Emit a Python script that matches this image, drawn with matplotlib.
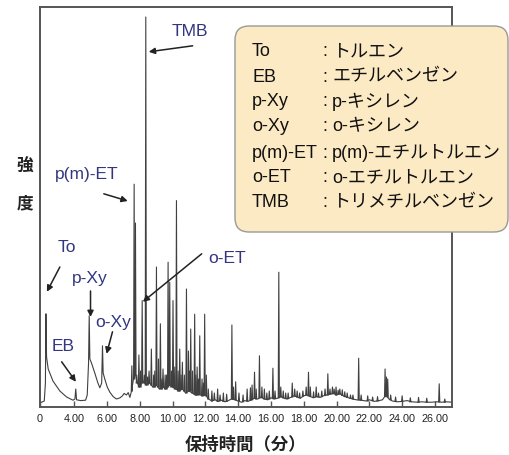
import matplotlib
matplotlib.use("Agg")
import matplotlib.pyplot as plt
from matplotlib.patches import FancyBboxPatch
from matplotlib.transforms import IdentityTransform

# ---------------- data (retention time in min, relative intensity) ----------------
# continuous trace: baseline with the broad early peaks (To, EB, p-Xy, o-Xy)
trace_t = [1.92, 2.18, 2.25, 2.28, 2.32, 2.42, 2.71, 3.13, 3.54, 3.93, 4.05, 4.10, 4.15,
           4.40, 4.70, 4.80, 4.88, 4.92, 4.96, 5.06, 5.26, 5.45, 5.57, 5.68, 5.73, 5.77,
           5.87, 6.02, 6.18, 6.38, 6.58, 6.80, 6.95, 7.05, 7.19, 7.30, 7.40, 7.50, 7.62,
           7.72, 7.85, 8.00, 8.20, 8.40, 8.60, 8.80, 9.00, 9.20, 9.40, 9.60, 9.80, 10.00,
           10.20, 10.40, 10.60, 10.80, 11.00, 11.20, 11.40, 11.60, 11.80, 12.00, 12.20,
           12.40, 12.60, 12.80, 13.00, 13.20, 13.40, 13.60, 13.80, 14.00, 14.20, 14.40,
           14.60, 14.80, 15.00, 15.20, 15.40, 15.60, 15.80, 16.00, 16.20, 16.40, 16.60,
           16.80, 17.00, 17.20, 17.40, 17.60, 17.80, 18.00, 18.20, 18.40, 18.60, 18.80,
           19.00, 19.20, 19.40, 19.60, 19.80, 20.00, 20.20, 20.40, 20.60, 20.80, 21.00,
           21.20, 21.50, 21.80, 22.00, 22.30, 22.60, 22.80, 23.00, 23.20, 23.40, 23.70,
           24.00, 24.30, 24.60, 24.90, 25.20, 25.50, 25.80, 26.10, 26.40, 26.70, 27.04]
trace_i = [1.0, 1.5, 6.0, 23.3, 12.5, 9.5, 6.5, 4.0, 2.5, 1.7, 2.0, 4.5, 1.8,
           1.6, 1.7, 3.0, 11.0, 22.8, 12.0, 11.0, 8.5, 6.0, 4.8, 6.0, 15.3, 8.5,
           7.0, 5.0, 3.7, 2.6, 2.0, 2.3, 2.8, 3.4, 3.0, 3.6, 2.4, 4.0, 7.0,
           8.5, 6.0, 5.0, 6.5, 5.5, 6.0, 5.0, 5.5, 4.5, 5.0, 4.5, 5.5, 5.0,
           4.5, 4.0, 4.5, 3.5, 4.0, 3.5, 3.0, 3.2, 2.8, 3.0, 2.0,
           1.5, 1.8, 1.4, 1.7, 1.3, 1.6, 2.0, 1.8, 1.5, 1.2, 1.6,
           1.4, 1.8, 2.2, 2.0, 2.5, 2.0, 1.8, 2.3, 2.0, 2.2, 2.6,
           2.2, 2.0, 2.4, 2.8, 2.5, 2.2, 2.8, 3.0, 2.6, 2.3, 2.6,
           2.4, 2.8, 3.0, 3.2, 3.4, 3.0, 3.3, 2.8, 2.5, 2.2, 2.0,
           1.8, 1.7, 1.5, 1.8, 1.4, 1.6, 1.8, 3.0, 2.0, 1.5, 1.3,
           1.4, 1.6, 1.3, 1.2, 1.3, 1.2, 1.2, 1.3, 1.2, 1.3, 1.2]

# narrow peaks: apex time, apex intensity, foot level
peak_t = [7.52, 7.66, 7.74, 7.82, 7.95, 8.05, 8.15, 8.28, 8.37, 8.48, 8.57, 8.71, 8.85,
          8.92, 9.02, 9.14, 9.26, 9.35, 9.42, 9.55, 9.64, 9.73, 9.83, 9.93, 10.03, 10.14,
          10.24, 10.34, 10.44, 10.52, 10.60, 10.72, 10.85, 10.97, 11.04, 11.11, 11.22,
          11.35, 11.42, 11.50, 11.58, 11.66, 11.80, 11.88, 11.96, 12.06, 12.18,
          12.40, 12.55, 12.75, 12.90, 13.10, 13.30, 13.62, 13.72, 13.85, 14.05, 14.30,
          14.55, 14.75, 14.85, 15.00, 15.10, 15.30, 15.45, 15.60, 15.75, 15.90, 16.12,
          16.25, 16.48, 16.60, 16.75, 16.90, 17.05, 17.30, 17.45, 17.60, 17.75, 17.95,
          18.15, 18.29, 18.40, 18.60, 18.76, 18.90, 19.10, 19.30, 19.47, 19.60, 19.75,
          19.85, 19.97, 20.10, 20.20, 20.35, 20.50, 20.65, 20.85, 21.00, 21.35, 21.50,
          21.90, 22.20, 22.50, 22.96, 23.04, 23.12, 23.30, 23.60, 24.00, 24.50, 25.00,
          25.50, 26.26, 26.60]
peak_h = [10.3, 55.7, 46.0, 8.0, 13.0, 9.0, 26.6, 8.0, 97.5, 7.5, 9.0, 14.5, 8.0,
          9.0, 35.0, 12.0, 20.8, 7.0, 9.5, 8.0, 8.0, 36.2, 31.2, 9.0, 26.6, 10.0,
          51.6, 9.0, 14.5, 8.0, 11.2, 8.0, 29.5, 14.0, 9.0, 19.5, 9.0,
          23.2, 8.0, 10.0, 7.0, 17.8, 7.0, 6.0, 23.2, 8.0, 4.5,
          4.0, 3.5, 4.5, 3.0, 3.5, 3.2, 20.5, 5.0, 6.3, 3.5, 3.0,
          4.5, 4.8, 5.5, 8.7, 4.5, 12.8, 5.0, 4.5, 3.5, 4.0, 9.7,
          4.0, 33.7, 5.0, 4.0, 3.5, 3.5, 6.0, 4.5, 4.0, 3.5, 4.0,
          5.0, 8.7, 5.0, 3.8, 5.0, 3.5, 4.0, 4.5, 8.3, 4.5, 5.0,
          4.5, 5.0, 4.2, 4.5, 4.3, 3.8, 3.5, 3.0, 3.0, 12.2, 3.0,
          2.8, 2.5, 2.6, 9.5, 7.5, 7.0, 3.0, 2.5, 2.8, 2.3, 2.4,
          2.2, 5.8, 2.0]
peak_base = [4.0, 7.0, 8.0, 6.0, 5.0, 5.0, 6.0, 6.0, 5.5, 5.5, 6.0, 5.5, 5.0,
             5.0, 5.5, 5.0, 4.5, 4.5, 5.0, 4.5, 4.5, 5.0, 5.5, 5.0, 5.0, 4.5,
             4.5, 4.0, 4.0, 4.5, 4.5, 4.0, 3.5, 4.0, 4.0, 4.0, 3.5,
             3.2, 3.0, 3.0, 3.0, 3.2, 2.8, 2.8, 3.0, 2.8, 2.0,
             1.5, 1.8, 1.4, 1.6, 1.4, 1.4, 2.0, 2.0, 1.8, 1.5, 1.3,
             1.5, 1.7, 1.8, 2.2, 2.0, 2.3, 2.3, 2.0, 1.9, 2.0, 2.1,
             2.1, 2.3, 2.5, 2.3, 2.1, 2.1, 2.5, 2.7, 2.5, 2.3, 2.7,
             3.0, 2.8, 2.7, 2.4, 2.6, 2.5, 2.6, 2.9, 3.0, 3.2, 3.3,
             3.4, 3.0, 3.2, 3.3, 2.9, 2.6, 2.4, 2.2, 2.0, 1.8, 1.7,
             1.5, 1.6, 1.5, 2.6, 2.8, 2.5, 1.8, 1.4, 1.4, 1.3, 1.2,
             1.2, 1.3, 1.2]

start_label = "0"
xtick_values = [4, 6, 8, 10, 12, 14, 16, 18, 20, 22, 24, 26]
xtick_labels = ["4.00", "6.00", "8.00", "10.00", "12.00", "14.00", "16.00",
                "18.00", "20.00", "22.00", "24.00", "26.00"]

legend_abbr = ["To", "EB", "p-Xy", "o-Xy", "p(m)-ET", "o-ET", "TMB"]
legend_names = ["トルエン", "エチルベンゼン", "p-キシレン", "o-キシレン",
                "p(m)-エチルトルエン", "o-エチルトルエン", "トリメチルベンゼン"]

xlabel_text = "保持時間（分）"
ylabel_chars = ["強", "度"]

# ---------------- figure ----------------
W, H = 509, 456
fig = plt.figure(figsize=(W / 100, H / 100), dpi=100)
fig.patch.set_facecolor("white")

ax = fig.add_axes([40 / W, 1 - 408 / H, (452 - 40) / W, (408 - 8) / H])
ax.set_xlim(1.92, 27.04)
ax.set_ylim(0, 100)

line_col = "#404040"
ax.plot(trace_t, trace_i, color=line_col, lw=0.8, zorder=2)
w = 0.035
for t, h, b in zip(peak_t, peak_h, peak_base):
    ax.plot([t - w, t, t + w], [b, h, b], color=line_col, lw=0.8, zorder=2)

for s in ax.spines.values():
    s.set_color("#555555")
    s.set_linewidth(1.4)

ax.set_yticks([])
ax.set_xticks([1.92] + xtick_values)
ax.set_xticklabels([start_label] + xtick_labels,
                   family=["Liberation Sans", "DejaVu Sans"], fontsize=7.8, color="#222222")
ax.tick_params(axis="x", direction="in", length=4, width=1.0, color="#555555", pad=4.5)

# annotations (label text, label centre, arrow tail, arrow tip) in data units
lab_col = "#33367f"
lab_font = ["Liberation Sans", "DejaVu Sans"]
annots = [
    ("TMB", (11.05, 94.0), (11.23, 90.3), (8.55, 88.8)),
    ("p(m)-ET", (4.78, 58.3), (5.81, 53.3), (7.27, 51.5)),
    ("o-ET", (13.3, 37.3), (11.78, 38.3), (8.19, 26.3)),
    ("To", (3.56, 40.0), (3.13, 35.0), (2.34, 28.8)),
    ("p-Xy", (4.96, 32.3), (5.0, 29.0), (5.0, 22.5)),
    ("o-Xy", (6.36, 21.3), (6.34, 18.8), (5.98, 13.3)),
    ("EB", (3.32, 15.3), (3.24, 11.3), (4.11, 6.3)),
]
for txt, lp, tail, tip in annots:
    ax.text(lp[0], lp[1], txt, color=lab_col, fontsize=12.5, family=lab_font,
            ha="center", va="center", zorder=4)
    ax.annotate("", xy=tip, xytext=tail,
                arrowprops=dict(arrowstyle="-|>", color="#222222", lw=1.1,
                                mutation_scale=9, shrinkA=0, shrinkB=0), zorder=4)

# legend box (display pixel coordinates)
r = 14
x0, x1, y0_img, y1_img = 235, 508, 27, 233
box = FancyBboxPatch((x0 + r, H - y1_img + r), (x1 - x0) - 2 * r, (y1_img - y0_img) - 2 * r,
                     boxstyle=f"round,pad={r}", transform=IdentityTransform(),
                     facecolor="#FCEAC4", edgecolor="#999999", lw=1.0, zorder=5)
fig.patches.append(box)
box.set_figure(fig)

row_y = [52, 77, 102, 127, 153, 178, 203]
mix_font = ["Liberation Sans", "Noto Sans CJK JP"]
for ab, nm, yy in zip(legend_abbr, legend_names, row_y):
    fig.text(252 / W, 1 - yy / H, ab, fontsize=13, family=mix_font, color="#111111",
             ha="left", va="center", zorder=6)
    fig.text(325 / W, 1 - yy / H, ":", fontsize=13, family=mix_font, color="#111111",
             ha="center", va="center", zorder=6)
    fig.text(332 / W, 1 - yy / H, nm, fontsize=13, family=mix_font, color="#111111",
             ha="left", va="center", zorder=6)

cjk = ["Noto Sans CJK JP", "DejaVu Sans"]
fig.text(245 / W, 1 - 445 / H, xlabel_text, fontsize=12.5, family=cjk, fontweight="bold",
         color="#222222", ha="center", va="center")
fig.text(25 / W, 1 - 167 / H, ylabel_chars[0], fontsize=12, family=cjk, fontweight="bold",
         color="#222222", ha="center", va="center")
fig.text(25 / W, 1 - 203 / H, ylabel_chars[1], fontsize=12, family=cjk, fontweight="bold",
         color="#222222", ha="center", va="center")

fig.savefig("out.png", dpi=100, facecolor="white")
